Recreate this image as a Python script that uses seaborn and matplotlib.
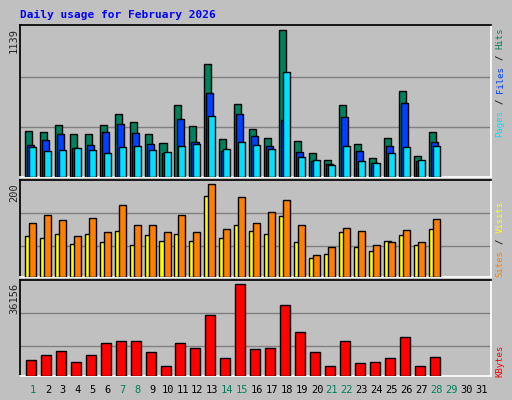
import numpy as np
import seaborn as sns
import matplotlib.pyplot as plt

days = list(range(1, 32))
hits = [358, 350, 405, 335, 335, 405, 490, 428, 335, 265, 559, 397, 876, 296,
        567, 374, 304, 1139, 281, 188, 134, 559, 258, 149, 304, 667, 165, 350]
files = [250, 289, 335, 227, 250, 350, 412, 343, 258, 188, 451, 273, 652, 204,
         490, 320, 242, 443, 196, 126, 103, 466, 204, 111, 242, 575, 126, 273]
pages = [235, 204, 211, 227, 211, 188, 235, 242, 211, 196, 242, 258, 474, 219,
         273, 250, 219, 814, 157, 134, 95, 242, 126, 111, 188, 235, 134, 242]
visits = [89, 83, 93, 72, 93, 76, 100, 70, 91, 78, 93, 78, 175, 83,
          113, 100, 93, 132, 76, 42, 50, 96, 65, 57, 78, 91, 68, 104]
sites = [117, 134, 122, 89, 128, 96, 156, 113, 113, 98, 134, 98, 200, 104,
         173, 117, 141, 165, 113, 48, 65, 106, 100, 70, 76, 102, 76, 124]
kbytes = [6468, 8448, 9636, 5676, 8448, 12804, 13596, 13596, 9240, 4092, 12804,
          10824, 23892, 7260, 36156, 10428, 10824, 27852, 17160, 9240, 4092,
          13596, 5280, 5676, 7260, 15180, 4092, 7656]
weekend = [1, 7, 8, 14, 15, 21, 22, 28, 29]

BG = "#C0C0C0"
GREEN, BLUE, CYAN = "#00805C", "#0040FF", "#00E0FF"
YELLOW, ORANGE, RED = "#FFFF00", "#FF8000", "#FF0000"

sns.set_theme(style="white")
plt.rcParams["font.family"] = ["DejaVu Sans Mono"]

fig = plt.figure(figsize=(5.12, 4.0), dpi=100, facecolor=BG)
W, H = 512, 400
SLOT = 14.95  # pixels per day
X0 = 20


def panel(top, bottom):
    ax = fig.add_axes([X0 / W, 1 - bottom / H, 471 / W, (bottom - top) / H])
    ax.set_facecolor(BG)
    ax.set_xlim(0, 471 / SLOT)
    ax.set_xticks([])
    ax.set_yticks([])
    for s in ["left", "top"]:
        ax.spines[s].set_color("black")
    for s in ["right", "bottom"]:
        ax.spines[s].set_color("white")
    return ax


x = np.arange(len(hits))
bw = 0.47
ekw = dict(edgecolor="black", linewidth=1.0, zorder=3)

ax1 = panel(25, 177)
ax1.set_ylim(0, 1175)
for g in [384, 775]:
    ax1.axhline(g, color="#808080", lw=1, zorder=1)
ax1.bar(x + 0.33, hits, bw, color=GREEN, align="edge", **ekw)
ax1.bar(x + 0.47, files, bw, color=BLUE, align="edge", **ekw)
ax1.bar(x + 0.60, pages, bw, color=CYAN, align="edge", **ekw)

ax2 = panel(180, 277)
ax2.set_ylim(0, 209)
for g in [66, 137]:
    ax2.axhline(g, color="#808080", lw=1, zorder=1)
ax2.bar(x + 0.33, visits, bw, color=YELLOW, align="edge", **ekw)
ax2.bar(x + 0.60, sites, bw, color=ORANGE, align="edge", **ekw)

ax3 = panel(280, 376)
ax3.set_ylim(0, 37740)
for g in [11631, 24686]:
    ax3.axhline(g, color="#808080", lw=1, zorder=1)
ax3.bar(x + 0.40, kbytes, 0.67, color=RED, align="edge", **ekw)

for d in days:
    fig.text((X0 + 13 + (d - 1) * SLOT) / W, 1 - 390 / H, str(d),
             ha="center", va="center", fontsize=7.5,
             color=GREEN if d in weekend else "black")

fig.text(20 / W, 1 - 15 / H, "Daily usage for February 2026", color="#0000FF",
         fontsize=8, fontweight="bold", ha="left", va="center")

for label, y in [("1139", 28), ("200", 183), ("36156", 283)]:
    fig.text(14 / W, 1 - y / H, label, rotation=90, ha="center", va="top",
             fontsize=7.5)

CH = 5.5  # pixel height per rotated character
right = [
    (137, [("Pages ", CYAN), ("/ ", "black"), ("Files ", BLUE),
           ("/ ", "black"), ("Hits", GREEN)]),
    (277, [("Sites ", ORANGE), ("/ ", "black"), ("Visits", YELLOW)]),
    (377, [("KBytes", RED)]),
]
for base, parts in right:
    y = base
    for label, c in parts:
        fig.text(500 / W, 1 - y / H, label.strip(), rotation=90, ha="center",
                 va="bottom", color=c, fontsize=6.5)
        y -= len(label) * CH

fig.savefig("out.png", dpi=100, facecolor=BG)
